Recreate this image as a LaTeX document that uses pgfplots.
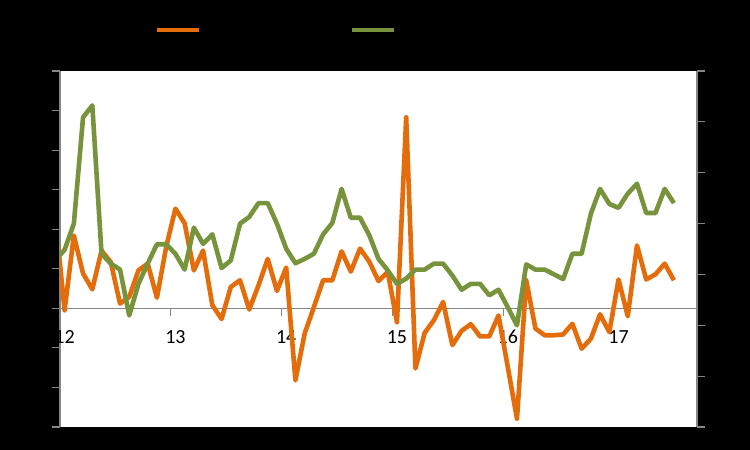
\documentclass[border=0pt]{standalone}
\usepackage{pgfplots}
\pgfplotsset{compat=1.18}
\usepackage{pgfplotstable}
\usepackage{fontspec}
\setmainfont{Carlito}
\definecolor{orangeln}{RGB}{228,108,10}
\definecolor{greenln}{RGB}{119,147,60}
\definecolor{axisgray}{RGB}{134,134,134}

% month index (0 = Jan 2012), orange series, green series
\pgfplotstableread{
i   o      g
-1  2.28   1.22
0   -0.05  1.48
1   1.84   2.14
2   0.88   4.83
3   0.48   5.13
4   1.46   1.38
5   1.17   1.13
6   0.12   0.98
7   0.29   -0.18
8   0.96   0.62
9   1.13   1.13
10  0.27   1.62
11  1.55   1.62
12  2.52   1.38
13  2.15   0.98
14  0.96   2.04
15  1.46   1.63
16  0.08   1.87
17  -0.27  1.02
18  0.54   1.21
19  0.71   2.14
20  -0.03  2.31
21  0.58   2.66
22  1.25   2.66
23  0.44   2.14
24  1.03   1.51
25  -1.82  1.14
26  -0.64  1.25
27  0.03   1.38
28  0.71   1.87
29  0.71   2.16
30  1.44   3.02
31  0.93   2.29
32  1.51   2.29
33  1.18   1.85
34  0.69   1.25
35  0.92   0.96
36  -0.35  0.62
37  4.83   0.75
38  -1.52  0.98
39  -0.62  0.98
40  -0.30  1.13
41  0.16   1.13
42  -0.93  0.83
43  -0.57  0.47
44  -0.40  0.62
45  -0.71  0.62
46  -0.71  0.33
47  -0.18  0.47
48  -1.48  0.03
49  -2.79  -0.43
50  0.71   1.11
51  -0.51  0.98
52  -0.68  0.98
53  -0.68  0.86
54  -0.66  0.74
55  -0.39  1.38
56  -1.02  1.38
57  -0.77  2.39
58  -0.15  3.02
59  -0.60  2.64
60  0.73   2.54
61  -0.20  2.90
62  1.59   3.15
63  0.73   2.41
64  0.86   2.41
65  1.13   3.02
66  0.71   2.66
}\datatable

\begin{document}
\begin{tikzpicture}
\fill[black] (0pt,0pt) rectangle (375pt,225pt);

\begin{axis}[
    at={(30pt,11.5pt)}, anchor=south west,
    scale only axis, width=318.5pt, height=178pt,
    xmin=-0.5, xmax=68.5,
    ymin=-3, ymax=6,
    axis background/.style={fill=white},
    axis y line*=left,
    axis x line*=middle,
    axis line style={draw=axisgray, line width=0.6pt, -},
    ytick={-3,...,6}, yticklabels={},
    xtick={11.5,23.5,35.5,47.5,59.5}, xticklabels={},
    extra x ticks={0,12,24,36,48,60},
    extra x tick labels={12,13,14,15,16,17},
    extra x tick style={major tick length=0pt,
        xticklabel style={yshift=-7.5pt}},
    tick align=outside,
    major tick length=4pt,
    tick style={draw=axisgray, line width=0.6pt},
    xticklabel style={font=\fontsize{10}{11}\selectfont, text=black},
    /pgf/number format/assume math mode=true,
    legend columns=2,
    legend style={at={(rel axis cs:0.148,1.115)}, anchor=west,
        draw=none, fill=none, inner sep=0pt,
        font=\fontsize{9}{10}\selectfont, text=black,
        /tikz/every even column/.append style={column sep=0pt}},
    legend image code/.code={\draw[#1, line width=2.3pt] (0pt,0pt) -- (21pt,0pt);},
    every axis plot/.append style={line width=2.3pt, line join=round},
]
\addplot[color=orangeln, no markers] table[x=i, y=o] {\datatable};
\addlegendentry{\hspace*{70pt}}
\addplot[color=greenln, no markers] table[x=i, y=g] {\datatable};
\addlegendentry{\hspace*{70pt}}
\end{axis}

\begin{axis}[
    at={(30pt,11.5pt)}, anchor=south west,
    scale only axis, width=318.5pt, height=178pt,
    xmin=-0.5, xmax=68.5,
    ymin=0, ymax=7,
    axis x line=none,
    axis y line*=right,
    axis line style={draw=axisgray, line width=0.6pt, -},
    ytick={0,...,7}, yticklabels={},
    tick align=outside,
    major tick length=4pt,
    tick style={draw=axisgray, line width=0.6pt},
]
\addplot[draw=none] coordinates {(0,0)};
\end{axis}
\end{tikzpicture}
\end{document}
